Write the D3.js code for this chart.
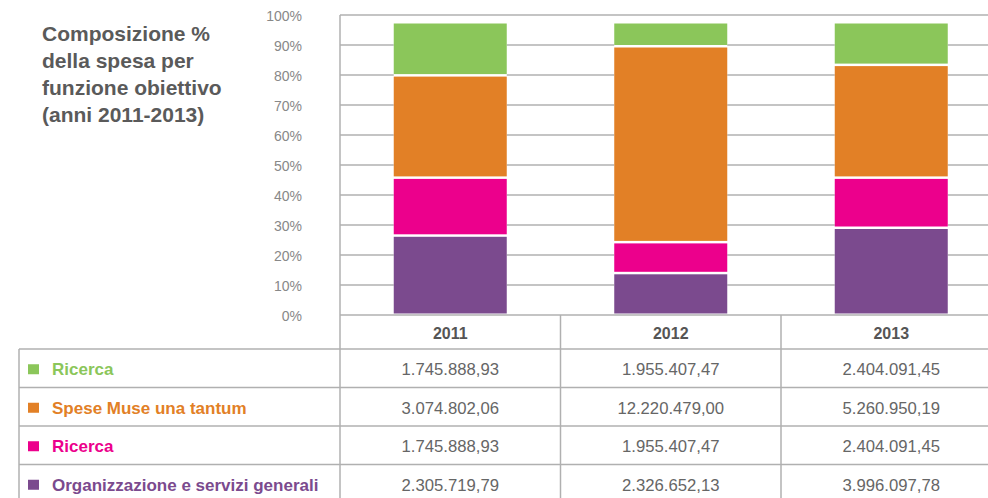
<!DOCTYPE html>
<html>
<head>
<meta charset="utf-8">
<script src="https://cdn.jsdelivr.net/npm/d3@7"></script>
<style>
  body { margin: 0; background: #fff; }
  svg { display: block; font-family: "Liberation Sans", Arial, sans-serif; }
</style>
</head>
<body>
<svg id="chart" width="988" height="498"></svg>
<script>
// Years (columns of the table / bars of the chart)
const years = ["2011", "2012", "2013"];

// Series, in table order (top to bottom)
const seriesKeys = ["ricercaA", "spese", "ricercaB", "organizzazione"];
const seriesNames = ["Ricerca", "Spese Muse una tantum", "Ricerca", "Organizzazione e servizi generali"];
const seriesColors = ["#8bc65a", "#e28026", "#ec008c", "#7b4a8e"];

// Table values (euro) per series, per year
const valRicercaA = [1745888.93, 1955407.47, 2404091.45];
const valSpese = [3074802.06, 12220479.00, 5260950.19];
const valRicercaB = [1745888.93, 1955407.47, 2404091.45];
const valOrganizzazione = [2305719.79, 2326652.13, 3996097.78];

// Bar segment heights (%)
const pctRicercaA = [17.7, 8.0, 14.2];
const pctSpese = [34.1, 65.3, 37.6];
const pctRicercaB = [19.3, 10.3, 16.7];
const pctOrganizzazione = [26.4, 13.9, 29.0];

// Y axis ticks
const yTicks = [0, 10, 20, 30, 40, 50, 60, 70, 80, 90, 100];

const titleLines = ["Composizione %", "della spesa per", "funzione obiettivo", "(anni 2011-2013)"];

const svg = d3.select("#chart");
const W = 988;
const gridColor = "#b0b0b0";
const textGray = "#555";

const plotLeft = 340, plotTop = 15, plotBottom = 315;
const colStep = 220.5;

// Columns (table) and bars share the same step
const xCol = d3.scaleBand().domain(years).range([plotLeft, plotLeft + colStep * years.length]);
const xBar = d3.scaleBand().domain(years).range([plotLeft, plotLeft + colStep * years.length])
    .paddingInner(0.4875).paddingOuter(0.24375);
const y = d3.scaleLinear().domain([0, 100]).range([plotBottom, plotTop]);

// Title
svg.append("g")
    .selectAll("text")
    .data(titleLines)
    .join("text")
    .attr("x", 42)
    .attr("y", (d, i) => 41 + i * 27)
    .attr("fill", "#5a5a5a")
    .attr("font-size", 21)
    .attr("font-weight", "bold")
    .text(d => d);

// Gridlines
svg.append("g")
    .selectAll("line")
    .data(yTicks)
    .join("line")
    .attr("x1", plotLeft).attr("x2", W)
    .attr("y1", d => y(d)).attr("y2", d => y(d))
    .attr("stroke", gridColor)
    .attr("stroke-width", 1.5);

// Y tick labels
svg.append("g")
    .selectAll("text")
    .data(yTicks)
    .join("text")
    .attr("x", 302)
    .attr("y", d => y(d) + 1)
    .attr("dy", "0.35em")
    .attr("text-anchor", "end")
    .attr("fill", "#888")
    .attr("font-size", 14)
    .text(d => d + "%");

// Stacked bars (bottom to top: organizzazione, ricercaB, spese, ricercaA)
const pctBySeries = {
    ricercaA: pctRicercaA, spese: pctSpese, ricercaB: pctRicercaB, organizzazione: pctOrganizzazione
};
const barData = years.map((yr, i) => {
    const row = { year: yr };
    seriesKeys.forEach(k => row[k] = pctBySeries[k][i]);
    return row;
});
const stackOrder = ["organizzazione", "ricercaB", "spese", "ricercaA"];
const stacked = d3.stack().keys(stackOrder)(barData);
const color = d3.scaleOrdinal().domain(seriesKeys).range(seriesColors);

// white backing so the gaps between segments hide the gridlines
const topLayer = stacked[stacked.length - 1];
svg.append("g")
    .selectAll("rect")
    .data(topLayer)
    .join("rect")
    .attr("x", d => xBar(d.data.year))
    .attr("width", xBar.bandwidth())
    .attr("y", d => y(d[1]))
    .attr("height", d => y(0) - y(d[1]) - 1.5)
    .attr("fill", "#fff");

svg.append("g")
    .selectAll("g")
    .data(stacked)
    .join("g")
    .attr("fill", d => color(d.key))
    .selectAll("rect")
    .data(d => d)
    .join("rect")
    .attr("x", d => xBar(d.data.year))
    .attr("width", xBar.bandwidth())
    .attr("y", d => y(d[1]) + 1)
    .attr("height", d => y(d[0]) - y(d[1]) - 2.5);

// Table
const headerTop = plotBottom, headerBottom = 349, rowH = 38.5;
const tableLeft = 19;
const rowTops = seriesKeys.map((k, i) => headerBottom + i * rowH);
const valBySeries = [valRicercaA, valSpese, valRicercaB, valOrganizzazione];
const itFmt = d3.formatLocale({ decimal: ",", thousands: ".", grouping: [3], currency: ["", "€"] }).format(",.2f");

const table = svg.append("g");

// horizontal row lines
table.selectAll("line.row")
    .data(rowTops.concat([headerBottom + rowTops.length * rowH]))
    .join("line")
    .attr("class", "row")
    .attr("x1", tableLeft).attr("x2", W)
    .attr("y1", d => d).attr("y2", d => d)
    .attr("stroke", gridColor)
    .attr("stroke-width", 1.5);

// vertical lines: axis line, column separators, left border
table.append("line")
    .attr("x1", plotLeft).attr("x2", plotLeft)
    .attr("y1", plotTop).attr("y2", 498)
    .attr("stroke", gridColor).attr("stroke-width", 1.5);
table.selectAll("line.col")
    .data(years.slice(1))
    .join("line")
    .attr("class", "col")
    .attr("x1", d => xCol(d)).attr("x2", d => xCol(d))
    .attr("y1", headerTop).attr("y2", 498)
    .attr("stroke", gridColor).attr("stroke-width", 1.5);
table.append("line")
    .attr("x1", tableLeft).attr("x2", tableLeft)
    .attr("y1", headerBottom).attr("y2", 498)
    .attr("stroke", gridColor).attr("stroke-width", 1.5);

// header years
table.selectAll("text.year")
    .data(years)
    .join("text")
    .attr("class", "year")
    .attr("x", d => xCol(d) + xCol.bandwidth() / 2)
    .attr("y", (headerTop + headerBottom) / 2 + 1)
    .attr("dy", "0.35em")
    .attr("text-anchor", "middle")
    .attr("fill", textGray)
    .attr("font-size", 16)
    .attr("font-weight", "bold")
    .text(d => d);

// legend rows
const rows = table.selectAll("g.srow")
    .data(seriesKeys.map((k, i) => ({ key: k, name: seriesNames[i], vals: valBySeries[i], top: rowTops[i] })))
    .join("g")
    .attr("class", "srow");

rows.append("rect")
    .attr("x", 28)
    .attr("y", d => d.top + rowH / 2 - 4)
    .attr("width", 11)
    .attr("height", 10)
    .attr("fill", d => color(d.key));

rows.append("text")
    .attr("x", 52)
    .attr("y", d => d.top + rowH / 2 + 1)
    .attr("dy", "0.35em")
    .attr("fill", d => color(d.key))
    .attr("font-size", 17)
    .attr("font-weight", "bold")
    .text(d => d.name);

rows.selectAll("text.val")
    .data(d => d.vals.map((v, i) => ({ v, year: years[i], top: d.top })))
    .join("text")
    .attr("class", "val")
    .attr("x", d => xCol(d.year) + xCol.bandwidth() / 2)
    .attr("y", d => d.top + rowH / 2 + 1)
    .attr("dy", "0.35em")
    .attr("text-anchor", "middle")
    .attr("fill", "#666")
    .attr("font-size", 16.7)
    .text(d => itFmt(d.v));
</script>
</body>
</html>
